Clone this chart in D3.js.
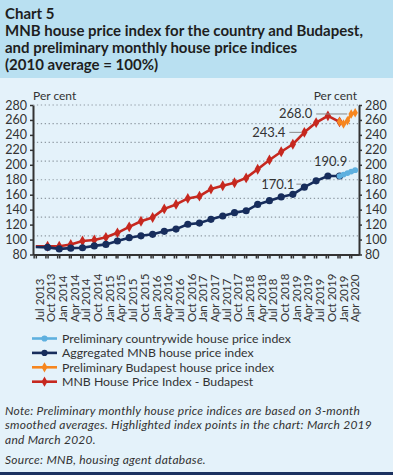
<!DOCTYPE html>
<html>
<head>
<meta charset="utf-8">
<script src="https://cdn.jsdelivr.net/npm/d3@7"></script>
<style>
  body { margin: 0; background: #e4f2fa; }
  svg { display: block; font-family: Lato, "Open Sans", sans-serif; }
</style>
</head>
<body>
<div id="chart"></div>
<script>
// quarterly index values, placed at the last month of each quarter
var quarterMonths = ['2013-06','2013-09','2013-12','2014-03','2014-06','2014-09','2014-12',
    '2015-03','2015-06','2015-09','2015-12','2016-03','2016-06','2016-09','2016-12',
    '2017-03','2017-06','2017-09','2017-12','2018-03','2018-06','2018-09','2018-12',
    '2019-03','2019-06','2019-09','2019-12'];
var countryIndex = [90, 89.5, 87.5, 88.5, 89, 91.5, 93.5, 98, 102.5, 105, 107, 111, 114,
    120.5, 122, 127, 131.5, 136, 138.5, 147, 152, 157, 160.5, 170.1, 178.5, 185, 185];
var budapestIndex = [91, 91, 91, 93.5, 98, 99.5, 103, 109, 117, 124.5, 129.5, 141, 147,
    155, 158, 167.5, 172, 176, 182.5, 194, 206.5, 217.5, 227.5, 243.4, 256.5, 265.5, 257.5];

// preliminary monthly indices
var prelimMonths = ['2019-12','2020-01','2020-02','2020-03','2020-04'];
var prelimCountry = [185, 187, 189, 190.9, 192.8];
var prelimBudapest = [257.5, 254.5, 259, 268.0, 269.5];

var xLabels = ['Jul 2013','Oct 2013','Jan 2014','Apr 2014','Jul 2014','Oct 2014','Jan 2015',
    'Apr 2015','Jul 2015','Oct 2015','Jan 2016','Apr 2016','Jul 2016','Oct 2016','Jan 2017',
    'Apr 2017','Jul 2017','Oct 2017','Jan 2018','Apr 2018','Jul 2018','Oct 2018','Jan 2019',
    'Apr 2019','Jul 2019','Oct 2019','Jan 2019','Apr 2020'];
var yTicks = [80, 100, 120, 140, 160, 180, 200, 220, 240, 260, 280];
var gridValues = [280, 255, 230, 205, 180, 155, 130, 105];

var legendNames = ['Preliminary countrywide house price index', 'Aggregated MNB house price index',
    'Preliminary Budapest house price index', 'MNB House Price Index - Budapest'];

var navy = '#172d5c', red = '#c6281f', orange = '#f6861f', light = '#5eb0df', ink = '#333';

function toDate(s){ var p = s.split('-'); return new Date(+p[0], +p[1] - 1, 1); }
function pair(months, vals){ return months.map((m, i) => ({date: toDate(m), value: vals[i]})); }

var country = pair(quarterMonths, countryIndex);
var budapest = pair(quarterMonths, budapestIndex);
var pCountry = pair(prelimMonths, prelimCountry);
var pBudapest = pair(prelimMonths, prelimBudapest);

var W = 393, H = 475;
var svg = d3.select('#chart').append('svg').attr('width', W).attr('height', H);

svg.append('rect').attr('width', W).attr('height', H).attr('fill', '#e4f2fa');
svg.append('rect').attr('width', W).attr('height', 78).attr('fill', '#b9e0f1');
svg.append('rect').attr('y', 472).attr('width', W).attr('height', 3).attr('fill', '#1c3260');

var title = ['Chart 5', 'MNB house price index for the country and Budapest,',
    'and preliminary monthly house price indices', '(2010 average = 100%)'];
svg.append('g').selectAll('text').data(title).enter().append('text')
    .attr('x', 5).attr('y', (d, i) => 18.5 + i * 17)
    .attr('font-size', 15).attr('font-weight', 700).attr('fill', '#1e1e1e')
    .text(d => d);

var x = d3.scaleTime().domain([new Date(2013, 4, 10), new Date(2020, 4, 1)]).range([33, 359]);
var y = d3.scaleLinear().domain([80, 280]).range([254.5, 105]);

// dotted gridlines
svg.append('g').selectAll('line').data(gridValues).enter().append('line')
    .attr('x1', 33).attr('x2', 359)
    .attr('y1', d => y(d)).attr('y2', d => y(d))
    .attr('stroke', '#8f9aa3').attr('stroke-width', 1.2).attr('stroke-dasharray', '1.3,2.6');

// y axes
function styleAxis(g){
    g.select('.domain').attr('stroke', ink).attr('stroke-width', 2);
    g.selectAll('.tick line').attr('stroke', ink).attr('stroke-width', 1.5);
    g.selectAll('.tick text').attr('fill', ink).attr('font-size', 12.5)
        .attr('font-family', 'Lato, "Open Sans", sans-serif');
}
svg.append('g').attr('transform', 'translate(33,0)')
    .call(d3.axisLeft(y).tickValues(yTicks).tickSize(3).tickSizeOuter(0).tickPadding(3))
    .call(styleAxis);
svg.append('g').attr('transform', 'translate(359,0)')
    .call(d3.axisRight(y).tickValues(yTicks).tickSize(3).tickSizeOuter(0).tickPadding(3))
    .call(styleAxis);

// x axis: ticks at every quarter start and mid-quarter
var tickDates = [];
for (var n = 0; n < 56; n++) {
    var m = 4 + Math.floor(n * 1.5);
    tickDates.push(new Date(2013, m, n % 2 ? 1 : 15));
}
tickDates = tickDates.filter(d => d >= x.domain()[0] && d <= x.domain()[1]);
svg.append('g').attr('transform', 'translate(0,254.5)')
    .call(d3.axisBottom(x).tickValues(tickDates).tickSize(4).tickSizeOuter(0).tickFormat(''))
    .call(styleAxis);

var labelDates = xLabels.map((l, i) => new Date(2013, 6 + 3 * i, 1));
svg.append('g').selectAll('text').data(xLabels).enter().append('text')
    .attr('transform', (d, i) => 'translate(' + x(labelDates[i]) + ',322) rotate(-90)')
    .attr('dy', '0.35em').attr('font-size', 11.5).attr('fill', ink)
    .text(d => d);

// unit labels
svg.append('text').attr('x', 33).attr('y', 100).attr('font-size', 12).attr('fill', ink).text('Per cent');
svg.append('text').attr('x', 357).attr('y', 100).attr('text-anchor', 'end')
    .attr('font-size', 12).attr('fill', ink).text('Per cent');

// series
var line = d3.line().x(d => x(d.date)).y(d => y(d.value));
var series = [
    {data: budapest, color: red, shape: d3.symbolDiamond, size: 34, width: 2.6},
    {data: country, color: navy, shape: d3.symbolCircle, size: 40, width: 2.6},
    {data: pBudapest, color: orange, shape: d3.symbolDiamond, size: 26, width: 2.6},
    {data: pCountry, color: light, shape: d3.symbolCircle, size: 26, width: 3}
];
var firstQuarter = toDate(quarterMonths[0]).getTime();
series.forEach(s => {
    svg.append('path').datum(s.data).attr('d', line)
        .attr('fill', 'none').attr('stroke', s.color).attr('stroke-width', s.width)
        .attr('stroke-linejoin', 'round');
    svg.append('g').selectAll('path').data(s.data.filter(d => d.date.getTime() !== firstQuarter))
        .enter().append('path')
        .attr('transform', d => 'translate(' + x(d.date) + ',' + y(d.value) + ')')
        .attr('d', d3.symbol().type(s.shape).size(s.size))
        .attr('fill', s.color);
});

// highlighted values
function pick(arr, month){ return arr.find(d => d.date.getTime() === toDate(month).getTime()); }
var highlights = [
    {p: pick(budapest, '2019-03'), dx: -19, dy: 5, lead: [-15, -3]},
    {p: pick(country, '2019-03'), dx: -10, dy: 2, lead: [-8, -3], ly: -3},
    {p: pick(pBudapest, '2020-03'), dx: -39, dy: 4.5, lead: [-35, -4]},
    {p: pick(pCountry, '2020-03'), dx: -4, dy: -6, lead: null}
];
highlights.forEach(h => {
    var px = x(h.p.date), py = y(h.p.value);
    if (h.lead) {
        var ly = py + (h.ly || 0);
        svg.append('line').attr('x1', px + h.lead[0]).attr('x2', px + h.lead[1])
            .attr('y1', ly).attr('y2', ly).attr('stroke', '#888').attr('stroke-width', 1);
    }
    svg.append('text').attr('x', px + h.dx).attr('y', py + h.dy)
        .attr('text-anchor', 'end').attr('font-size', 13).attr('fill', ink)
        .text(h.p.value.toFixed(1));
});

// legend
var legendColors = [light, navy, orange, red];
var legendShapes = [d3.symbolCircle, d3.symbolCircle, d3.symbolDiamond, d3.symbolDiamond];
var lg = svg.append('g').selectAll('g').data(legendNames).enter().append('g')
    .attr('transform', (d, i) => 'translate(0,' + (338.5 + i * 14.4) + ')');
lg.append('line').attr('x1', 32).attr('x2', 57).attr('stroke', (d, i) => legendColors[i]).attr('stroke-width', 2.6);
lg.append('path').attr('transform', 'translate(44.5,0)')
    .attr('d', (d, i) => d3.symbol().type(legendShapes[i]).size(30)())
    .attr('fill', (d, i) => legendColors[i]);
lg.append('text').attr('x', 62).attr('dy', '0.35em').attr('font-size', 12.3).attr('fill', ink).text(d => d);

// notes
var notes = ['Note: Preliminary monthly house price indices are based on 3-month',
    'smoothed averages. Highlighted index points in the chart: March 2019',
    'and March 2020.'];
svg.append('g').selectAll('text').data(notes).enter().append('text')
    .attr('x', 5).attr('y', (d, i) => 414.5 + i * 14.5)
    .attr('font-size', 12).attr('letter-spacing', 0.25)
    .attr('font-style', 'italic').attr('fill', ink).text(d => d);
svg.append('text').attr('x', 5).attr('y', 463.5).attr('font-size', 12).attr('letter-spacing', 0.25)
    .attr('font-style', 'italic').attr('fill', ink).text('Source: MNB, housing agent database.');
</script>
</body>
</html>
